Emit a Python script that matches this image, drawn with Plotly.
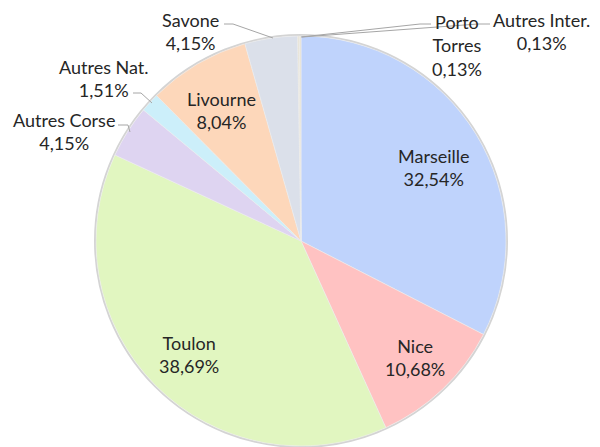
import plotly.graph_objects as go

labels = ["Marseille", "Nice", "Toulon", "Autres Corse", "Autres Nat.",
          "Livourne", "Savone", "Porto Torres", "Autres Inter."]
values = [32.54, 10.68, 38.69, 4.15, 1.51, 8.04, 4.15, 0.13, 0.13]
label_text = ["Marseille", "Nice", "Toulon", "Autres Corse", "Autres Nat.",
              "Livourne", "Savone", "Porto<br>Torres", "Autres Inter."]

colors = ["#BFD3FC", "#FFC2C2", "#E1F6C0", "#DED4F1", "#CCEFFA",
          "#FDD7BA", "#DBE0EA", "#E8E3D3", "#E8E3D3"]

# page has an 8px body margin
OFF = 8
W, H = 600 - 2 * OFF, 447 - OFF
cx, cy, r = 301, 241, 205

def px(x):
    return (x - OFF) / W

def py(y):
    return 1 - (y - OFF) / H

fig = go.Figure(go.Pie(
    labels=labels, values=values, sort=False, direction="clockwise",
    rotation=0, textinfo="none", hoverinfo="label+percent",
    marker=dict(colors=colors, line=dict(color="#EDEDED", width=0.6)),
    domain=dict(x=[px(cx - r), px(cx + r)],
                y=[max(0, py(cy + r)), py(cy - r)]),
    showlegend=False,
))

# label centres (pixels) -- layout positions
label_pos = [(434, 167), (415, 357), (189, 354), (64, 131), (104, 79),
             (221, 110), (190, 32), (457, 45), (541, 32)]

def fmt(v):
    return f"{v:.2f}".replace(".", ",") + "%"

annotations = []
for name, v, (x, y) in zip(label_text, values, label_pos):
    annotations.append(dict(
        x=px(x), y=py(y), xref="paper", yref="paper",
        text=f"{name}<br>{fmt(v)}", showarrow=False,
        font=dict(family="Lato", size=18, color="#262626"),
        xanchor="center", yanchor="middle", align="center",
    ))

leaders = [
    [(224, 24), (233, 24), (273, 38)],            # Savone
    [(431, 24), (420, 24), (301, 37)],            # Porto Torres
    [(490, 24), (478, 24), (302, 37)],            # Autres Inter.
    [(133, 93), (141, 93), (152, 103)],           # Autres Nat.
    [(118, 125), (128, 125), (130, 132)],         # Autres Corse
]
shapes = [dict(type="circle", xref="paper", yref="paper", layer="below",
               x0=px(cx - r - 1), x1=px(cx + r + 1),
               y0=py(cy + r + 1), y1=py(cy - r - 1),
               line=dict(color="#D4D4D4", width=2))]
for pts in leaders:
    path = "M " + " L ".join(f"{px(x)},{py(y)}" for x, y in pts)
    shapes.append(dict(type="path", path=path, xref="paper", yref="paper",
                       line=dict(color="#A6A6A6", width=1)))

fig.update_layout(
    width=W, height=H, margin=dict(l=0, r=0, t=0, b=0),
    paper_bgcolor="white", plot_bgcolor="white",
    annotations=annotations, shapes=shapes,
)

fig.write_html("out.html")
